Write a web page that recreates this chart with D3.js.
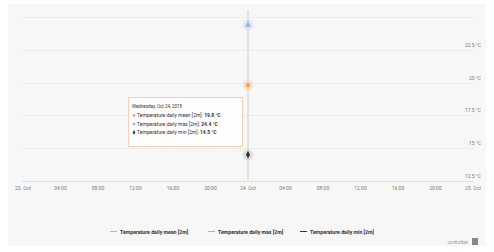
<!DOCTYPE html>
<html><head><meta charset="utf-8">
<script src="https://cdn.jsdelivr.net/npm/d3@7"></script>
<style>
html,body{margin:0;padding:0;background:#fff;}
svg{display:block;font-family:Roboto,"Open Sans",sans-serif;}
</style></head>
<body>
<svg id="c" width="494" height="252"></svg>
<script>
const seriesNames = ["Temperature daily mean [2m]", "Temperature daily max [2m]", "Temperature daily min [2m]"];
const seriesColors = ["#f4a460", "#90b4ee", "#333333"];
const seriesSymbols = ["circle", "triangle", "diamond"];
const pointDate = ["2018-10-24T00:00"];
const meanValues = [19.8];
const maxValues = [24.4];
const minValues = [14.5];
const yTicks = [12.5, 15, 17.5, 20, 22.5, 25];
const yTickLabels = ["12.5 °C", "15 °C", "17.5 °C", "20 °C", "22.5 °C", ""];
const xDomain = ["2018-10-23T00:00", "2018-10-25T00:00"];
const tooltipTitle = "Wednesday, Oct 24, 2018";
const creditText = "controlbar";

const svg = d3.select("#c");
const parse = d3.timeParse("%Y-%m-%dT%H:%M");
const x = d3.scaleTime().domain(xDomain.map(parse)).range([23, 473]);
const y = d3.scaleLinear().domain([12.5, 25]).range([181, 17]);

svg.append("rect").attr("x", 8).attr("y", 4).attr("width", 478).attr("height", 242).attr("fill", "#f7f7f7");

// grid
svg.append("g").selectAll("line").data(yTicks).join("line")
  .attr("x1", 22).attr("x2", 474)
  .attr("y1", d => Math.round(y(d)) + 0.5).attr("y2", d => Math.round(y(d)) + 0.5)
  .attr("stroke", d => d === 12.5 ? "#e0e0e0" : "#ececec").attr("stroke-width", 1);

// y labels (right)
svg.append("g").selectAll("text").data(yTicks).join("text")
  .attr("x", 481).attr("y", d => y(d) - 3)
  .attr("text-anchor", "end").attr("font-size", 5).attr("fill", "#777")
  .text((d, i) => yTickLabels[i]);

// x axis labels
const xTicks = x.ticks(d3.timeHour.every(4));
const fmt = d => (d.getHours() === 0 ? d3.timeFormat("%d. %b")(d) : d3.timeFormat("%H:%M")(d));
svg.append("g").selectAll("text").data(xTicks).join("text")
  .attr("x", d => x(d)).attr("y", 190)
  .attr("text-anchor", "middle").attr("font-size", 5).attr("fill", "#777")
  .text(fmt);

// crosshair
const px = x(parse(pointDate[0]));
svg.append("line").attr("x1", px).attr("x2", px).attr("y1", 10).attr("y2", 181)
  .attr("stroke", "#cfcfcf").attr("stroke-width", 1);

// markers
const allVals = [meanValues, maxValues, minValues];
const symMap = {circle: d3.symbolCircle, triangle: d3.symbolTriangle, diamond: d3.symbolDiamond};
allVals.forEach((vals, si) => {
  vals.forEach((v, i) => {
    const cx = x(parse(pointDate[i])), cy = y(v);
    svg.append("circle").attr("cx", cx).attr("cy", cy).attr("r", 5.5)
      .attr("fill", seriesColors[si]).attr("opacity", si === 2 ? 0.1 : 0.2);
    svg.append("path").attr("transform", `translate(${cx},${cy})`)
      .attr("d", d3.symbol().type(symMap[seriesSymbols[si]]).size(16)())
      .attr("fill", seriesColors[si]);
  });
});

// tooltip
const tg = svg.append("g");
tg.append("rect").attr("x", 128.5).attr("y", 97.5).attr("width", 114).attr("height", 49)
  .attr("fill", "#fff").attr("fill-opacity", 0.85).attr("stroke", "#f3d2b4").attr("stroke-width", 1);
tg.append("text").attr("x", 132).attr("y", 108).attr("font-size", 4.5).attr("fill", "#333").text(tooltipTitle);
const tipVals = [meanValues[0], maxValues[0], minValues[0]];
tipVals.forEach((v, i) => {
  const ly = 117 + i * 8.5;
  tg.append("path").attr("transform", `translate(134,${ly - 1.6})`)
    .attr("d", d3.symbol().type(symMap[seriesSymbols[i]]).size(6)())
    .attr("fill", seriesColors[i]);
  const t = tg.append("text").attr("x", 137).attr("y", ly).attr("font-size", 5).attr("fill", "#333");
  t.append("tspan").text(seriesNames[i] + ": ");
  t.append("tspan").attr("font-weight", "bold").text(v.toFixed(1) + " °C");
});

// legend
const legX = [110, 208, 300];
const lg = svg.append("g");
seriesNames.forEach((n, i) => {
  lg.append("line").attr("x1", legX[i]).attr("x2", legX[i] + 7).attr("y1", 231.5).attr("y2", 231.5)
    .attr("stroke", seriesColors[i]).attr("stroke-width", 1);
  lg.append("text").attr("x", legX[i] + 10).attr("y", 233.5).attr("font-size", 5.2)
    .attr("font-weight", "bold").attr("fill", "#333").text(n);
});

// credit
svg.append("text").attr("x", 468).attr("y", 244).attr("text-anchor", "end").attr("font-size", 4.5).attr("fill", "#999").text(creditText);
svg.append("rect").attr("x", 472).attr("y", 238).attr("width", 6).attr("height", 7).attr("fill", "#888");
</script>
</body></html>
